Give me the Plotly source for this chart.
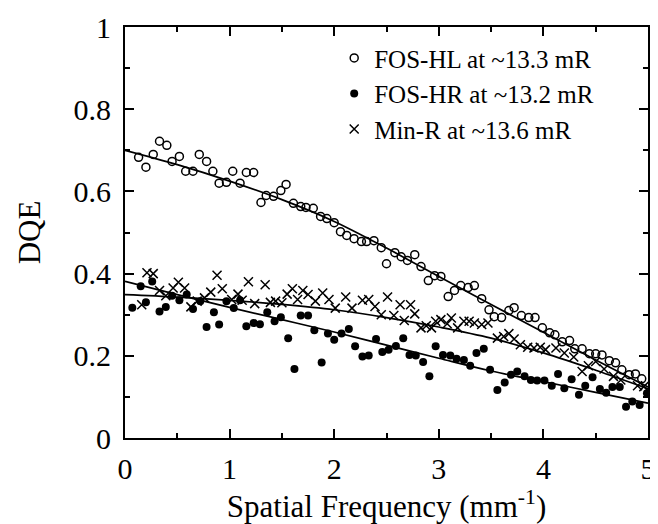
import plotly.graph_objects as go

# FOS-HL (open circles)
hl_freq = [0.13, 0.20, 0.27, 0.33, 0.40, 0.45, 0.52, 0.58, 0.65, 0.71, 0.78, 0.84, 0.90, 0.97,
           1.03, 1.10, 1.16, 1.23, 1.30, 1.35, 1.42, 1.49, 1.54, 1.61, 1.68, 1.73, 1.80, 1.87,
           1.93, 2.00, 2.06, 2.12, 2.19, 2.26, 2.31, 2.38, 2.45, 2.50, 2.58, 2.64, 2.70, 2.77,
           2.83, 2.90, 2.96, 3.02, 3.09, 3.15, 3.21, 3.28, 3.34, 3.41, 3.48, 3.53, 3.60, 3.67,
           3.72, 3.79, 3.86, 3.92, 3.99, 4.06, 4.11, 4.18, 4.25, 4.30, 4.37, 4.44, 4.50, 4.56,
           4.63, 4.69, 4.75, 4.82, 4.88, 4.94]
hl_dqe = [0.683, 0.659, 0.690, 0.722, 0.712, 0.673, 0.685, 0.649, 0.649, 0.690, 0.673, 0.649, 0.620, 0.622,
          0.649, 0.620, 0.646, 0.646, 0.573, 0.590, 0.588, 0.602, 0.617, 0.571, 0.563, 0.561, 0.559, 0.539,
          0.534, 0.524, 0.502, 0.493, 0.485, 0.478, 0.478, 0.480, 0.463, 0.424, 0.451, 0.441, 0.432, 0.446,
          0.417, 0.383, 0.395, 0.393, 0.344, 0.359, 0.371, 0.366, 0.371, 0.339, 0.312, 0.295, 0.293, 0.310,
          0.317, 0.298, 0.293, 0.293, 0.268, 0.256, 0.251, 0.234, 0.237, 0.217, 0.217, 0.205, 0.205, 0.202,
          0.188, 0.183, 0.166, 0.154, 0.156, 0.144]

# FOS-HR (filled circles)
hr_freq = [0.07, 0.15, 0.20, 0.26, 0.33, 0.39, 0.45, 0.52, 0.59, 0.65, 0.72, 0.78, 0.85, 0.90,
           0.97, 1.04, 1.10, 1.16, 1.23, 1.29, 1.36, 1.43, 1.49, 1.56, 1.62, 1.68, 1.75, 1.81,
           1.88, 1.94, 2.00, 2.07, 2.14, 2.20, 2.27, 2.33, 2.40, 2.46, 2.52, 2.59, 2.66, 2.72,
           2.78, 2.85, 2.91, 2.97, 3.04, 3.11, 3.17, 3.24, 3.30, 3.36, 3.43, 3.49, 3.56, 3.63,
           3.69, 3.75, 3.82, 3.88, 3.94, 4.01, 4.08, 4.14, 4.20, 4.27, 4.34, 4.40, 4.47, 4.54,
           4.60, 4.66, 4.73, 4.79, 4.85, 4.92, 4.99]
hr_dqe = [0.317, 0.369, 0.330, 0.381, 0.308, 0.319, 0.346, 0.335, 0.349, 0.314, 0.333, 0.270, 0.306, 0.276,
          0.333, 0.316, 0.335, 0.272, 0.280, 0.277, 0.306, 0.284, 0.294, 0.243, 0.168, 0.298, 0.298, 0.262,
          0.184, 0.254, 0.239, 0.254, 0.265, 0.223, 0.198, 0.201, 0.241, 0.209, 0.215, 0.224, 0.243, 0.202,
          0.201, 0.185, 0.150, 0.223, 0.202, 0.201, 0.193, 0.190, 0.176, 0.207, 0.217, 0.166, 0.117, 0.135,
          0.154, 0.162, 0.150, 0.141, 0.140, 0.140, 0.127, 0.156, 0.121, 0.143, 0.105, 0.127, 0.148, 0.119,
          0.110, 0.124, 0.124, 0.076, 0.089, 0.080, 0.109]

# Min-R (crosses)
mr_freq = [0.16, 0.21, 0.27, 0.33, 0.39, 0.46, 0.51, 0.57, 0.63, 0.69, 0.76, 0.82, 0.88, 0.93,
           1.02, 1.08, 1.12, 1.18, 1.24, 1.34, 1.39, 1.44, 1.50, 1.55, 1.60, 1.65, 1.70, 1.75,
           1.82, 1.89, 1.95, 2.01, 2.11, 2.17, 2.27, 2.33, 2.39, 2.45, 2.51, 2.57, 2.63, 2.67,
           2.73, 2.77, 2.83, 2.88, 2.93, 2.97, 3.02, 3.08, 3.12, 3.18, 3.24, 3.29, 3.34, 3.41,
           3.47, 3.56, 3.62, 3.67, 3.72, 3.78, 3.85, 3.91, 3.97, 4.02, 4.12, 4.20, 4.29, 4.37,
           4.43, 4.50, 4.58, 4.67, 4.74, 4.90, 4.96]
mr_dqe = [0.324, 0.402, 0.400, 0.359, 0.346, 0.365, 0.379, 0.365, 0.319, 0.333, 0.341, 0.355, 0.396, 0.363,
          0.337, 0.350, 0.335, 0.380, 0.327, 0.373, 0.330, 0.333, 0.329, 0.350, 0.363, 0.337, 0.359, 0.349,
          0.333, 0.353, 0.337, 0.316, 0.343, 0.316, 0.335, 0.337, 0.320, 0.300, 0.343, 0.298, 0.324, 0.286,
          0.324, 0.302, 0.268, 0.273, 0.268, 0.284, 0.288, 0.278, 0.292, 0.268, 0.284, 0.284, 0.280, 0.276,
          0.280, 0.243, 0.247, 0.254, 0.241, 0.227, 0.221, 0.219, 0.221, 0.215, 0.219, 0.207, 0.197, 0.162,
          0.176, 0.186, 0.168, 0.150, 0.141, 0.127, 0.125]

# fitted curves
fit_freq = [0, 0.5, 1, 1.5, 2, 2.5, 3, 3.5, 4, 4.5, 5]
hl_fit = [0.700, 0.665, 0.625, 0.580, 0.527, 0.462, 0.393, 0.325, 0.257, 0.190, 0.124]
hr_fit = [0.381, 0.349, 0.318, 0.288, 0.258, 0.226, 0.194, 0.163, 0.137, 0.111, 0.085]
mr_fit = [0.349, 0.343, 0.335, 0.325, 0.312, 0.293, 0.270, 0.243, 0.207, 0.165, 0.120]

FONT = "Liberation Serif"

fig = go.Figure()

for fit in (hl_fit, hr_fit, mr_fit):
    fig.add_trace(go.Scatter(x=fit_freq, y=fit, mode="lines", line=dict(color="black", width=1.7, shape="spline"),
                             showlegend=False, hoverinfo="skip"))

fig.add_trace(go.Scatter(x=hl_freq, y=hl_dqe, mode="markers", name="FOS-HL at ~13.3 mR",
                         marker=dict(symbol="circle-open", size=8, color="black", line=dict(width=1.5))))
fig.add_trace(go.Scatter(x=hr_freq, y=hr_dqe, mode="markers", name="FOS-HR at ~13.2 mR",
                         marker=dict(symbol="circle", size=8, color="black")))
fig.add_trace(go.Scatter(x=mr_freq, y=mr_dqe, mode="markers", name="Min-R at ~13.6 mR",
                         marker=dict(symbol="x-thin-open", size=9, color="black", line=dict(width=1.5, color="black"))))

axis_common = dict(showline=True, linewidth=2, linecolor="black", mirror="ticks", ticks="inside",
                   ticklen=9, tickwidth=1.5, tickcolor="black", showgrid=False, zeroline=False,
                   automargin=False, tickfont=dict(family=FONT, size=30, color="black"))

fig.update_layout(
    width=658, height=524,
    margin=dict(l=117, r=18, t=19, b=94),
    paper_bgcolor="white", plot_bgcolor="white",
    font=dict(family=FONT, color="black"),
    xaxis=dict(range=[0, 5], dtick=1, tick0=0, ticklabelstandoff=3,
               minor=dict(dtick=0.5, ticks="inside", ticklen=5, tickcolor="black"),
               title=dict(text="Spatial Frequency (mm<sup>-1</sup>)", font=dict(family=FONT, size=31), standoff=0),
               **axis_common),
    yaxis=dict(range=[0, 1], dtick=0.2, tick0=0, ticklabelstandoff=6,
               minor=dict(dtick=0.1, ticks="inside", ticklen=5, tickcolor="black"),
               title=dict(text="DQE", font=dict(family=FONT, size=31), standoff=24),
               **axis_common),
    legend=dict(x=0.40, y=0.98, xanchor="left", yanchor="top", bgcolor="rgba(0,0,0,0)",
                font=dict(family=FONT, size=25, color="black"), tracegroupgap=0, itemwidth=30),
    showlegend=True,
)

fig.write_html("out.html")
